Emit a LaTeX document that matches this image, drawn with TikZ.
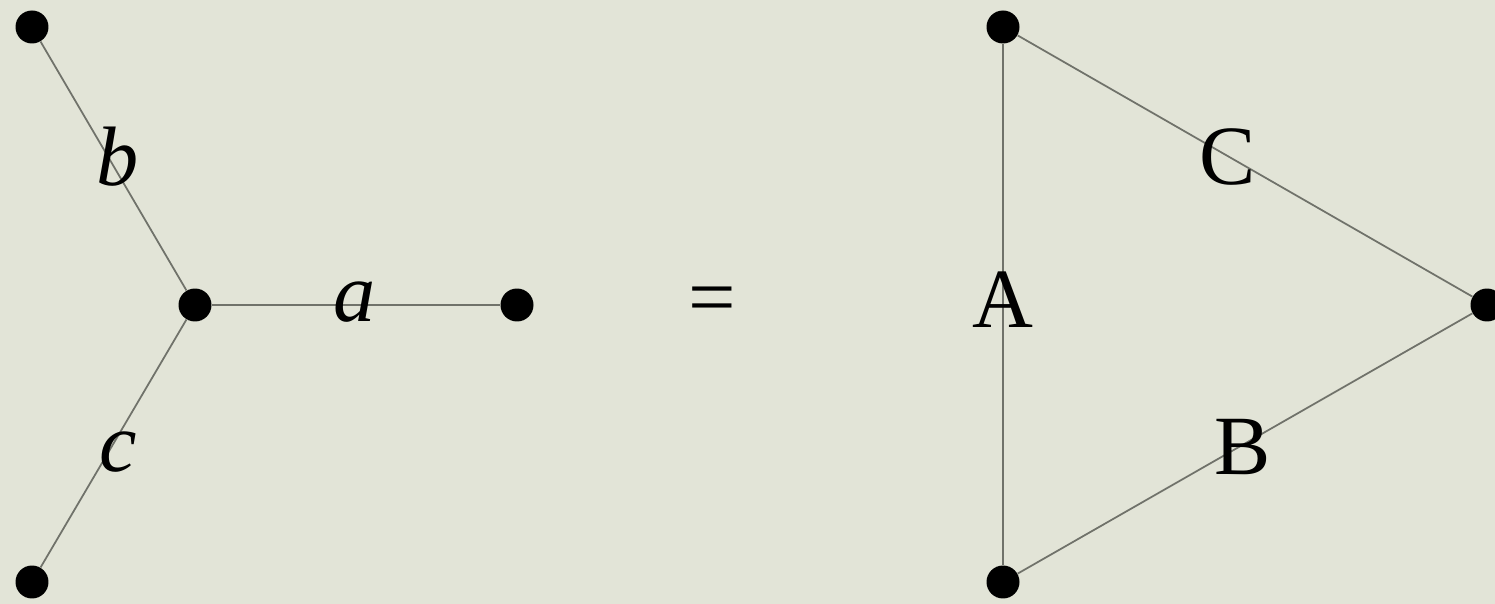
\documentclass[tikz,border=0pt]{standalone}
\usepackage{fontspec}
\setmainfont{Liberation Serif}
\usepackage{tikz}
\usetikzlibrary{positioning}
\usepackage{xcolor}
\definecolor{paperBg}{RGB}{226,228,215}
\definecolor{wireGray}{RGB}{112,114,106}

\begin{document}
\begin{tikzpicture}[
    x=0.02cm, y=-0.02cm,
    dot/.style={circle, fill=black, inner sep=0pt, minimum size=0.66cm},
    wire/.style={draw=wireGray, line width=1pt},
    lbl/.style={inner sep=0pt, font=\fontsize{48}{56}\selectfont}
]
\fill[paperBg] (0,0) rectangle (1495,604);
\useasboundingbox (0,0) rectangle (1495,604);

% star
\node[dot] (yc) at (195,305) {};
\node[dot] (yb) at (32,27) {};
\node[dot] (ya) at (517,305) {};
\node[dot] (yd) at (32,582) {};

\draw[wire] (yc) -- (yb);
\draw[wire] (yc) -- (ya);
\draw[wire] (yc) -- (yd);

\node[lbl] (la) at (355,302) {\itshape a};
\node[lbl] (lb) at (118,157) {\itshape b};
\node[lbl] (lc) at (118,452) {\itshape c};

\node[lbl] (eq) at (712,306) {=};

% triangle
\node[dot] (tt) at (1003,27) {};
\node[dot] (tb) at (1003,582) {};
\node[dot] (tr) at (1487,305) {};

\draw[wire] (tt) -- (tb);
\draw[wire] (tt) -- (tr);
\draw[wire] (tb) -- (tr);

\node[lbl] (lA) at (1003,300) {A};
\node[lbl] (lC) at (1228,157) {C};
\node[lbl] (lB) at (1243,447) {B};
\end{tikzpicture}
\end{document}
